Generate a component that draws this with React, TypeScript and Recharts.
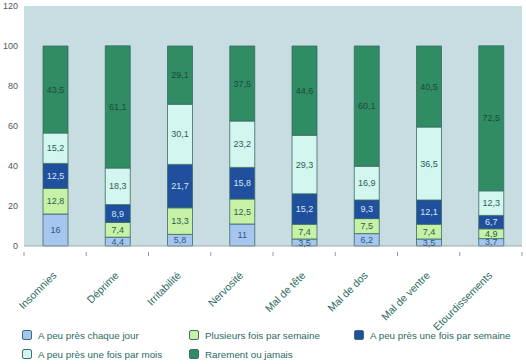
import React from 'react';
import { BarChart, Bar, XAxis, YAxis, CartesianGrid, LabelList } from 'recharts';

// categories and series values
const categories = [
  'Insomnies',
  'Déprime',
  'Irritabilité',
  'Nervosité',
  'Mal de tête',
  'Mal de dos',
  'Mal de ventre',
  'Etourdissements',
];
const chaqueJour = [16, 4.4, 5.8, 11, 3.5, 6.2, 3.5, 3.7];
const plusieursFois = [12.8, 7.4, 13.3, 12.5, 7.4, 7.5, 7.4, 4.9];
const uneFoisSemaine = [12.5, 8.9, 21.7, 15.8, 15.2, 9.3, 12.1, 6.7];
const uneFoisMois = [15.2, 18.3, 30.1, 23.2, 29.3, 16.9, 36.5, 12.3];
const rarement = [43.5, 61.1, 29.1, 37.5, 44.6, 60.1, 40.5, 72.5];
const yTicks = [0, 20, 40, 60, 80, 100, 120];

const series = [
  { key: 'jour', name: 'A peu près chaque jour', values: chaqueJour, color: '#a7c6ef', text: '#2d5a7a' },
  { key: 'plusieurs', name: 'Plusieurs fois par semaine', values: plusieursFois, color: '#c7f1a6', text: '#2b5e4e' },
  { key: 'semaine', name: 'A peu près une fois par semaine', values: uneFoisSemaine, color: '#1f4f9d', text: '#d6e6f6' },
  { key: 'mois', name: 'A peu près une fois par mois', values: uneFoisMois, color: '#d3f6ee', text: '#2b5e5a' },
  { key: 'rarement', name: 'Rarement ou jamais', values: rarement, color: '#2f8c63', text: '#1f4a3c' },
];

const data = categories.map((c, i) => {
  const row: Record<string, string | number> = { name: c };
  series.forEach((s) => {
    row[s.key] = s.values[i];
  });
  return row;
});

const FONT = '"Liberation Sans", Arial, sans-serif';
const LABEL = '#2b6b60';

const formatValue = (v: any) => String(v).replace('.', ',');

// rotated category label + small tick marks between categories
const CategoryTick = (props: any) => {
  const { x, y, payload, index } = props;
  const half = payload.offset || 31;
  const last = index === categories.length - 1;
  const ty = y + 22;
  return (
    <g>
      <line x1={x - half} y1={y - 2} x2={x - half} y2={y + 2} stroke="#999" />
      {last && <line x1={x + half} y1={y - 2} x2={x + half} y2={y + 2} stroke="#999" />}
      <text
        x={x + 2}
        y={ty}
        transform={`rotate(-45, ${x + 2}, ${ty})`}
        textAnchor="end"
        fontSize={10.5}
        fontFamily={FONT}
        fill={LABEL}
      >
        {payload.value}
      </text>
    </g>
  );
};

const ChartLegend = () => {
  const cols = [22, 189, 354];
  const rows = [335, 354];
  return (
    <div style={{ position: 'absolute', left: 0, top: 0, width: 526, height: 364, pointerEvents: 'none' }}>
      {series.map((s, i) => {
        const left = cols[i % 3];
        const top = rows[Math.floor(i / 3)];
        return (
          <div
            key={s.key}
            style={{
              position: 'absolute',
              left,
              top: top - 6,
              height: 12,
              display: 'flex',
              alignItems: 'center',
              fontFamily: FONT,
              fontSize: 9.8,
              color: LABEL,
              whiteSpace: 'nowrap',
            }}
          >
            <span
              style={{
                display: 'inline-block',
                width: 8,
                height: 8,
                background: s.color,
                border: '1px solid #3d6f73',
                borderRadius: 2,
                marginRight: 6,
              }}
            />
            {s.name}
          </div>
        );
      })}
    </div>
  );
}

export default function App() {
  return (
    <div style={{ position: 'absolute', left: 0, top: 0, width: 526, height: 364, background: '#fff' }}>
      <BarChart
        width={526}
        height={364}
        data={data}
        margin={{ top: 6, right: 4, left: 0, bottom: 58 }}
      >
        <CartesianGrid horizontal={false} vertical={false} fill="#c7dde1" />
        <YAxis
          width={24}
          domain={[0, 120]}
          ticks={yTicks}
          axisLine={false}
          tickLine={false}
          tickSize={0}
          tick={{ fontSize: 9, fontFamily: FONT, fill: '#555' }}
          tickMargin={6}
        />
        <XAxis
          dataKey="name"
          height={60}
          interval={0}
          axisLine={{ stroke: '#9aa' }}
          tickLine={false}
          tick={<CategoryTick />}
        />
        {series.map((s) => (
          <Bar
            key={s.key}
            dataKey={s.key}
            name={s.name}
            stackId="a"
            fill={s.color}
            stroke="#3a6b66"
            strokeWidth={0.8}
            barSize={25}
            isAnimationActive={false}
          >
            <LabelList
              dataKey={s.key}
              position="center"
              formatter={formatValue}
              style={{ fontSize: 9, fontFamily: FONT, fill: s.text }}
            />
          </Bar>
        ))}
      </BarChart>
      <ChartLegend />
    </div>
  );
}
